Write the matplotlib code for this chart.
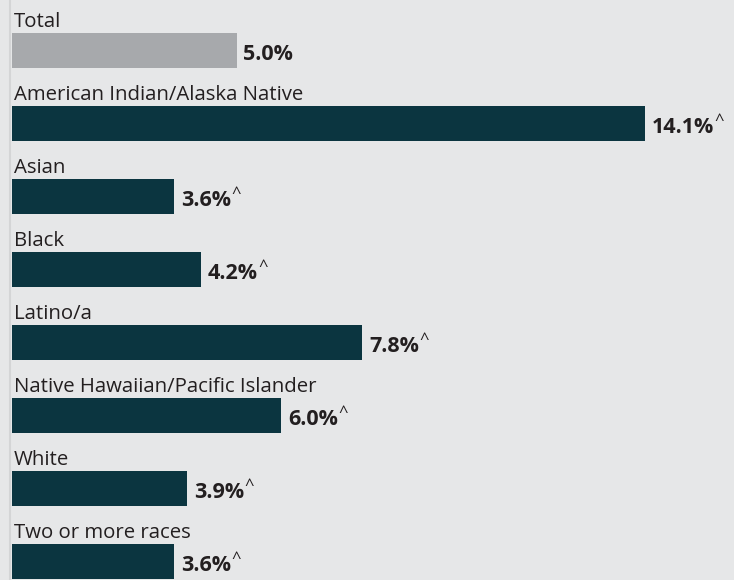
import matplotlib
matplotlib.use("Agg")
import matplotlib.pyplot as plt

categories = ["Total", "American Indian/Alaska Native", "Asian", "Black", "Latino/a",
              "Native Hawaiian/Pacific Islander", "White", "Two or more races"]
values = [5.0, 14.1, 3.6, 4.2, 7.8, 6.0, 3.9, 3.6]
markers = ["", "^", "^", "^", "^", "^", "^", "^"]

BG = "#e6e7e8"
TEAL = "#0b3540"
GRAY = "#a7a9ac"
TXT = "#231f20"

fig = plt.figure(figsize=(7.34, 5.8), dpi=100, facecolor=BG)
ax = fig.add_axes([0, 0, 1, 1], facecolor=BG)

pitch = 73.0
ppu = 44.9
y = list(range(len(categories)))
colors = [GRAY] + [TEAL] * (len(categories) - 1)
ax.barh(y, values, height=35 / pitch, color=colors, left=0)

ax.set_ylim(7 + (580 - 561.5) / pitch, -50.5 / pitch)
ax.set_xlim(-12 / ppu, (734 - 12) / ppu)
ax.axvline(-1.5 / ppu, color="#d4d5d6", lw=1.5)

fam = ["Open Sans", "DejaVu Sans"]
fig.canvas.draw()
for i, (c, v, m) in enumerate(zip(categories, values, markers)):
    ax.text(2 / ppu, i - 23.8 / pitch, c, ha="left", va="baseline", fontsize=14.7,
            color=TXT, family=fam)
    t = ax.text(v + 7 / ppu, i + 9.2 / pitch, f"{v:.1f}%", ha="left", va="baseline",
                fontsize=15.5, fontweight="bold", color=TXT, family=fam)
    if m:
        bb = t.get_window_extent(renderer=fig.canvas.get_renderer())
        x1 = ax.transData.inverted().transform((bb.x1, 0))[0]
        ax.text(x1 + 0.5 / ppu, i + 1.5 / pitch, m, ha="left", va="baseline",
                fontsize=12, color=TXT, family=fam)

ax.axis("off")
fig.savefig("out.png", dpi=100, facecolor=BG)
